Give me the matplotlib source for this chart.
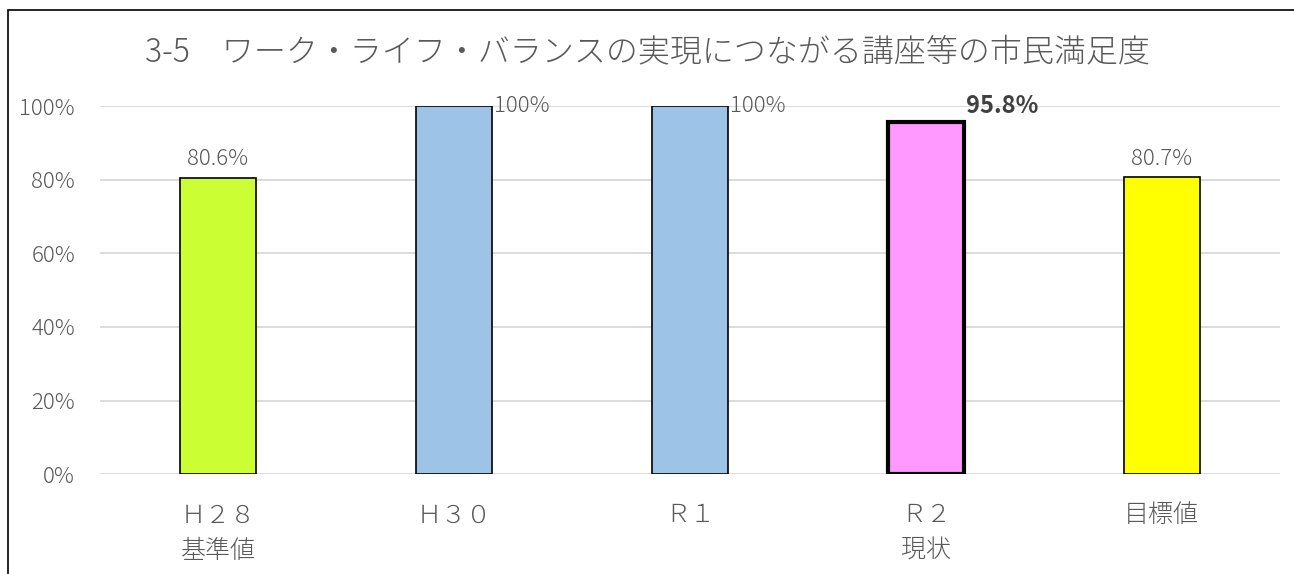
import matplotlib.pyplot as plt
from matplotlib.patches import Rectangle

plt.rcParams['font.family'] = ['Noto Sans CJK JP', 'DejaVu Sans']
plt.rcParams['font.weight'] = 'light'

categories = ['Ｈ２８\n基準値', 'Ｈ３０', 'Ｒ１', 'Ｒ２\n現状', '目標値']
values = [80.6, 100, 100, 95.8, 80.7]
labels = ['80.6%', '100%', '100%', '95.8%', '80.7%']
colors = ['#CCFF33', '#9DC3E6', '#9DC3E6', '#FF99FF', '#FFFF00']
yticks = [0, 20, 40, 60, 80, 100]

fig = plt.figure(figsize=(12.94, 5.74), dpi=100)
ax = fig.add_axes([0.0773, 0.174, 0.9117, 0.641])

x = range(len(values))
bars = ax.bar(x, values, width=0.32, color=colors, edgecolor='black', linewidth=1.2, zorder=3)
bars[3].set_linewidth(3)

ax.set_xlim(-0.5, 4.5)
ax.set_ylim(0, 100)
ax.set_yticks(yticks)
ax.set_yticklabels([f'{v}%' for v in yticks], color='#595959', fontsize=16)
ax.set_xticks(list(x))
ax.set_xticklabels(categories, color='#595959', fontsize=18, linespacing=1.45)
ax.tick_params(axis='x', length=0, pad=20)
ax.tick_params(axis='y', length=0, pad=18)
ax.grid(axis='y', color='#D9D9D9', linewidth=1.3, zorder=0)
for s in ax.spines.values():
    s.set_visible(False)

# data labels
for i, (v, lab) in enumerate(zip(values, labels)):
    if lab == '100%':
        ax.text(i + 0.17, v, lab, ha='left', va='center', color='#595959', fontsize=16)
    elif i == 3:
        ax.text(i + 0.17, v + 4.3, lab, ha='left', va='center', color='#404040',
                fontsize=17, fontweight='bold')
    else:
        ax.text(i, v + 2.0, lab, ha='center', va='bottom', color='#595959', fontsize=16)

fig.text(0.5, 0.907, '3-5\u3000ワーク・ライフ・バランスの実現につながる講座等の市民満足度',
         ha='center', va='center', fontsize=23, color='#595959')

fig.patches.append(Rectangle((8 / 1294, -0.05), 1.1, 1 - 10 / 574 + 0.05,
                             transform=fig.transFigure, fill=False,
                             edgecolor='black', linewidth=1.2))

fig.savefig('out.png', dpi=100)
